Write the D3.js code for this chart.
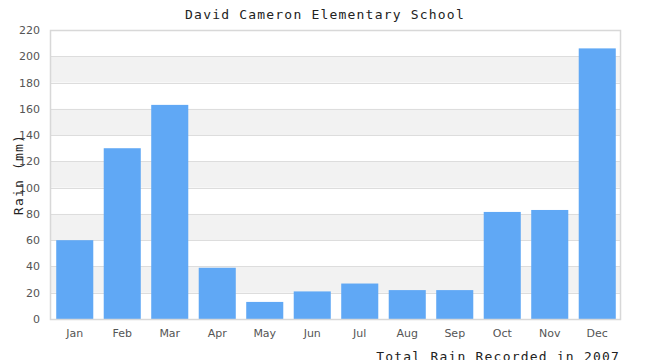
<!DOCTYPE html>
<html>
<head>
<meta charset="utf-8">
<script src="https://cdn.jsdelivr.net/npm/d3@7"></script>
<style>
  body { margin: 0; background: #fff; }
  .mono { font-family: "DejaVu Sans Mono", monospace; fill: #222; font-size: 13px; letter-spacing: 1.2px; }
  .tick text { font-family: "DejaVu Sans", sans-serif; font-size: 11px; fill: #555; }
</style>
</head>
<body>
<script>
// data
const months = ["Jan", "Feb", "Mar", "Apr", "May", "Jun", "Jul", "Aug", "Sep", "Oct", "Nov", "Dec"];
const rain = [60, 130, 163, 39, 13, 21, 27, 22, 22, 81.5, 83, 206];
const yTicks = [0, 20, 40, 60, 80, 100, 120, 140, 160, 180, 200, 220];

const width = 650, height = 360;
const plotLeft = 50, plotRight = 620, plotTop = 30, plotBottom = 319;

const svg = d3.select("body").append("svg")
    .attr("width", width)
    .attr("height", height);

const x = d3.scaleBand()
    .domain(months)
    .range([plotLeft + 1, plotRight + 1])
    .paddingInner(0.22)
    .paddingOuter(0.11);

const y = d3.scaleLinear()
    .domain([0, 220])
    .range([plotBottom, plotTop]);

// alternating bands
const bands = d3.pairs(yTicks).filter((d, i) => i % 2 == 1);
svg.append("g").selectAll("rect")
    .data(bands)
    .enter()
    .append("rect")
    .attr("x", plotLeft)
    .attr("width", plotRight - plotLeft)
    .attr("y", d => y(d[1]))
    .attr("height", d => y(d[0]) - y(d[1]))
    .attr("fill", "#f2f2f2");

// grid lines
svg.append("g").selectAll("line")
    .data(yTicks)
    .enter()
    .append("line")
    .attr("x1", plotLeft)
    .attr("x2", plotRight)
    .attr("y1", d => Math.round(y(d)) + 0.5)
    .attr("y2", d => Math.round(y(d)) + 0.5)
    .attr("stroke", "#dddddd");

// bars
svg.append("g").selectAll("rect")
    .data(rain)
    .enter()
    .append("rect")
    .attr("x", (d, i) => x(months[i]))
    .attr("width", x.bandwidth())
    .attr("y", d => y(d))
    .attr("height", d => y(0) - y(d))
    .attr("fill", "#60a8f5");

// frame
svg.append("rect")
    .attr("x", plotLeft + 0.5)
    .attr("y", plotTop + 0.5)
    .attr("width", plotRight - plotLeft)
    .attr("height", plotBottom - plotTop)
    .attr("fill", "none")
    .attr("stroke", "#d8d8d8")
    .attr("stroke-width", 1.5);

// y axis
const yAxis = svg.append("g")
    .attr("transform", `translate(${plotLeft},0)`)
    .call(d3.axisLeft(y).tickValues(yTicks).tickSize(0).tickPadding(10));
yAxis.select(".domain").remove();

// x axis
const xAxis = svg.append("g")
    .attr("transform", `translate(0,${plotBottom})`)
    .call(d3.axisBottom(x).tickSize(0).tickPadding(10));
xAxis.select(".domain").remove();

// title
svg.append("text")
    .attr("class", "mono")
    .attr("x", width / 2)
    .attr("y", 19)
    .attr("text-anchor", "middle")
    .text("David Cameron Elementary School");

// y label
svg.append("text")
    .attr("class", "mono")
    .attr("transform", `translate(23,${(plotTop + plotBottom) / 2}) rotate(-90)`)
    .attr("text-anchor", "middle")
    .text("Rain (mm)");

// footer (cut at the bottom edge, as in the original)
svg.append("text")
    .attr("class", "mono")
    .attr("x", plotRight)
    .attr("y", 361)
    .attr("text-anchor", "end")
    .text("Total Rain Recorded in 2007");
</script>
</body>
</html>
